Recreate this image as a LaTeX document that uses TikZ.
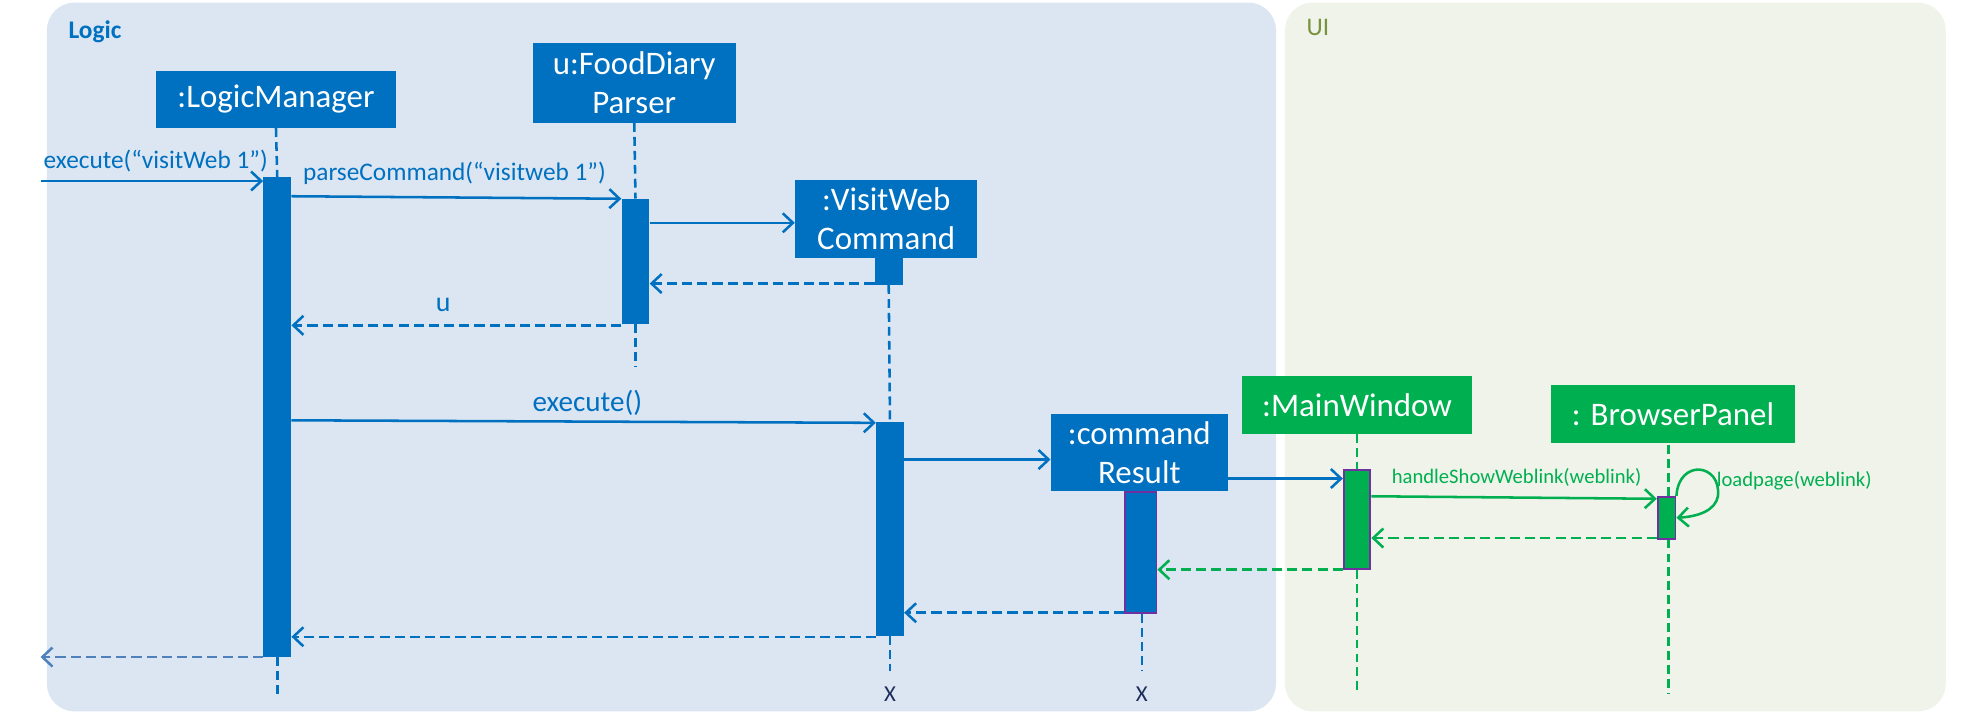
\documentclass[tikz,border=0pt]{standalone}
\usepackage{fontspec}
\setmainfont{Carlito}
\usetikzlibrary{arrows.meta}
\definecolor{lblue}{HTML}{0070C0}
\definecolor{panelblue}{HTML}{DCE6F2}
\definecolor{panelgreen}{HTML}{F0F3EA}
\definecolor{ggreen}{HTML}{00B050}
\definecolor{uigreen}{HTML}{77933C}
\definecolor{purp}{HTML}{7030A0}
\definecolor{retblue}{HTML}{4F81BD}
\definecolor{navyx}{HTML}{1F2D5A}
\tikzset{
  obj/.style={fill=lblue, text=white, inner sep=0pt, align=center, font=\fontsize{26}{31}\selectfont},
  gobj/.style={obj, fill=ggreen},
  act/.style={fill=lblue, inner sep=0pt, minimum width=22pt},
  gact/.style={fill=ggreen, draw=purp, line width=1.5pt, inner sep=0pt},
  life/.style={draw=lblue, line width=2pt, dash pattern=on 7pt off 4pt},
  glife/.style={life, draw=ggreen},
  tip/.style={-{Straight Barb[length=8pt,width=15pt,line width=2pt]}},
  msg/.style={draw=lblue, line width=2pt, tip},
  ret/.style={msg, dash pattern=on 8pt off 4pt},
  gmsg/.style={msg, draw=ggreen},
  gret/.style={ret, draw=ggreen},
  lbl/.style={text=lblue, inner sep=0pt},
  glbl/.style={text=ggreen, inner sep=0pt, font=\fontsize{16.3}{19}\selectfont},
  xlbl/.style={text=navyx, inner sep=0pt, font=\fontsize{18}{21}\selectfont}
}
\begin{document}
\begin{tikzpicture}[x=1pt,y=-1pt]
\useasboundingbox (0,0) rectangle (1568,570.35);
% panels
\fill[panelblue, rounded corners=22pt] (37,2) rectangle (1008,562);
\fill[panelgreen, rounded corners=22pt] (1015,2) rectangle (1537,562);
\node[anchor=west, text=lblue, inner sep=0pt, font=\fontsize{20}{24}\selectfont\bfseries] (tlogic) at (54,25) {Logic};
\node[anchor=west, text=uigreen, inner sep=0pt, font=\fontsize{20}{24}\selectfont] (tui) at (1032,22) {UI};
% objects
\node[obj, minimum width=190pt, minimum height=45pt] (lm) at (218,78.5) {\raisebox{-2pt}{:LogicManager}};
\node[obj, minimum width=160pt, minimum height=63pt] (parser) at (501,65.5) {u:FoodDiary\\Parser};
\node[obj, minimum width=144pt, minimum height=62pt] (visit) at (700,173) {:VisitWeb\\Command};
\node[obj, minimum width=140pt, minimum height=61pt] (cres) at (900,357.5) {:command\\Result};
\node[gobj, minimum width=182pt, minimum height=46pt] (mw) at (1072,320) {:MainWindow};
\node[gobj, minimum width=193pt, minimum height=46pt] (bp) at (1321.5,327) {: BrowserPanel};
% activations
\node[act, minimum height=379pt] (a1) at (219,329.5) {};
\node[act, minimum height=99pt] (a2) at (502,206.5) {};
\node[act, minimum height=21pt] (a3) at (702,214.5) {};
\node[act, minimum height=169pt] (a4) at (703,417.5) {};
\node[act, draw=purp, line width=1.5pt, minimum width=25pt, minimum height=96pt] (a5) at (901,436.5) {};
\node[gact, minimum width=21pt, minimum height=78pt] (a6) at (1072,410.5) {};
\node[gact, minimum width=14pt, minimum height=33pt] (a7) at (1316.5,409) {};
% end points
\coordinate (e1) at (219,550);
\coordinate (e2) at (502,290);
\coordinate (e3) at (703,530);
\coordinate (e4) at (902,530);
\coordinate (e5) at (1072,548);
\coordinate (e6) at (1318,548);
\coordinate (s0) at (32,143);
\coordinate (s1) at (32,519);
\node[xlbl] (x1) at (703,548) {X};
\node[xlbl] (x2) at (902,548) {X};
% lifelines
\draw[life] (lm.south) -- (a1.north);
\draw[life] (a1.south) -- (e1);
\draw[life] (parser.south) -- (a2.north);
\draw[life] (a2.south) -- (e2);
\draw[life] (a3.south) -- (a4.north);
\draw[life] (a4.south) -- (e3);
\draw[life] (a5.south -| e4) -- (e4);
\draw[glife] (mw.south) -- (a6.north);
\draw[glife] (a6.south) -- (e5);
\draw[glife] (a7.north -| e6) -- (bp.south -| e6);
\draw[glife] (a7.south -| e6) -- (e6);
% messages
\draw[msg] (s0) -- (s0 -| a1.west);
\node[lbl, font=\fontsize{20}{24}\selectfont] (l1) at (123,127.5) {execute(“visitWeb 1”)};
\draw[msg] (a1.east |- 0,155) -- (a2.west |- 0,157);
\node[lbl, font=\fontsize{20}{24}\selectfont] (l2) at (359,137) {parseCommand(“visitweb 1”)};
\draw[msg] (a2.east |- 0,176) -- (visit.west |- 0,176);
\draw[ret] (a3.west |- 0,224) -- (a2.east |- 0,224);
\draw[ret] (a2.west |- 0,257) -- (a1.east |- 0,257);
\node[lbl, font=\fontsize{22}{26}\selectfont] (l3) at (350,241) {u};
\draw[msg] (a1.east |- 0,332) -- (a4.west |- 0,334);
\node[lbl, font=\fontsize{23}{27}\selectfont] (l4) at (464,318) {execute()};
\draw[msg] (a4.east |- 0,363) -- (cres.west |- 0,363);
\draw[msg] (cres.east |- 0,378) -- (a6.west |- 0,378);
\draw[gmsg] (a6.east |- 0,392) -- (a7.west |- 0,394);
\node[glbl] (l5) at (1198,377) {handleShowWeblink(weblink)};
\draw[gmsg] (a7.north east) .. controls (1326,362) and (1360,366) .. (1357,392) .. controls (1355,403) and (1342,408) .. (a7.east |- 0,409);
\node[glbl, anchor=west] (l6) at (1356,380) {loadpage(weblink)};
\draw[gret] (a7.west |- 0,425) -- (a6.east |- 0,425);
\draw[gret] (a6.west |- 0,450) -- (a5.east |- 0,450);
\draw[ret] (a5.west |- 0,484) -- (a4.east |- 0,484);
\draw[ret] (a4.west |- 0,503) -- (a1.east |- 0,503);
\draw[ret, draw=retblue] (a1.west |- 0,519) -- (s1);
\end{tikzpicture}
\end{document}
